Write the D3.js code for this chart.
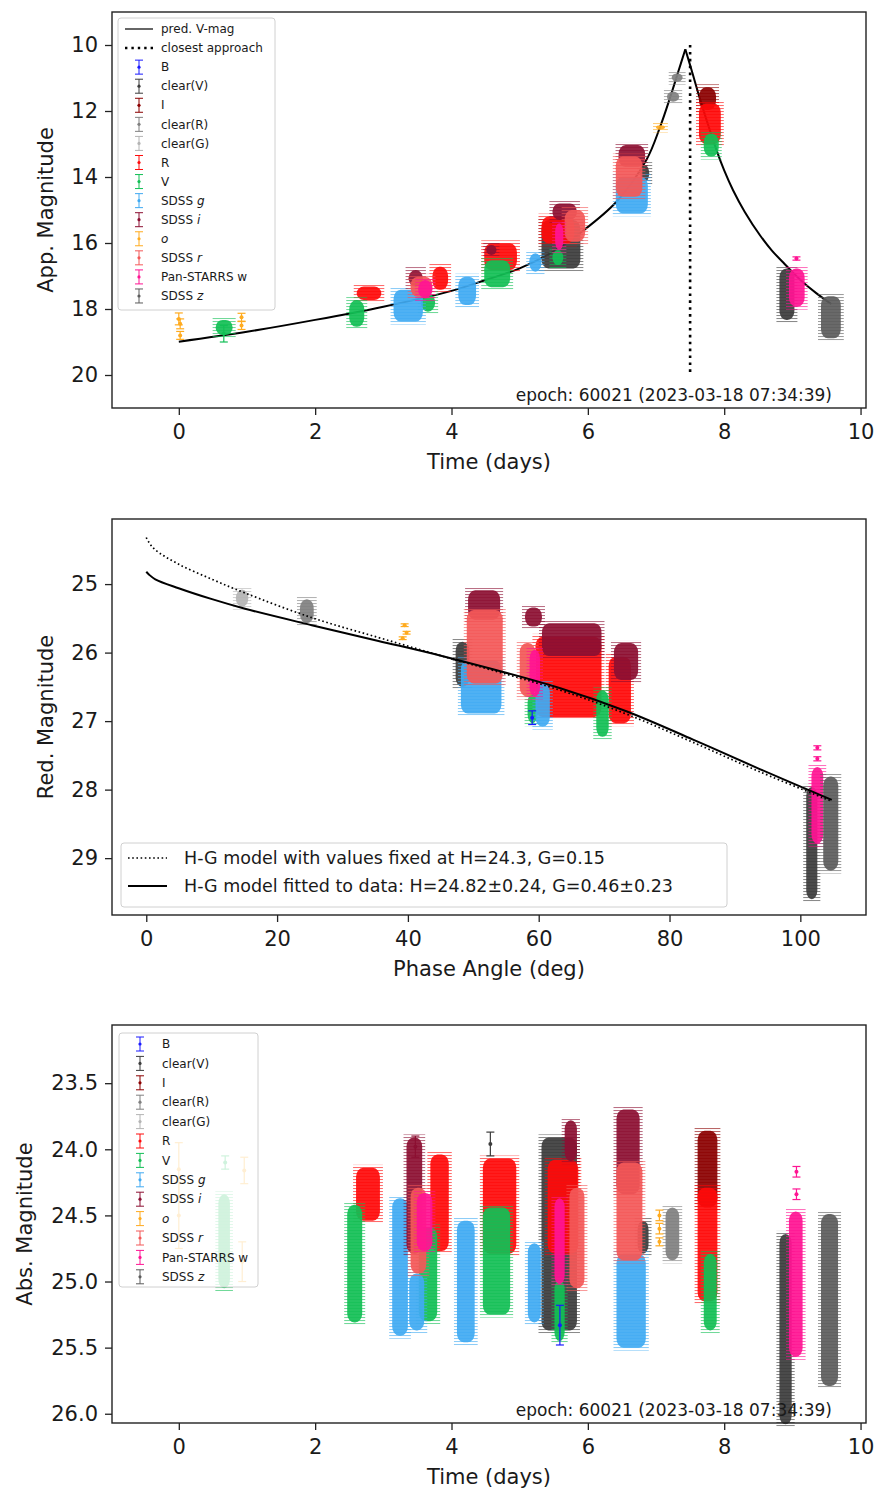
<!DOCTYPE html>
<html lang="en">
<head>
<meta charset="UTF-8">
<title>Light curve</title>
<script src="https://d3js.org/d3.v7.min.js"></script>
<style>
  body { margin: 0; background: #fff; }
  text { font-family: "DejaVu Sans", sans-serif; fill: #1a1a1a; }
</style>
</head>
<body>
<svg id="chart" width="876" height="1490"></svg>
<script>
// ---- filters (legend order, also plotting order) ----
const filterNames = ["B", "clear(V)", "I", "clear(R)", "clear(G)", "R", "V", "SDSS g", "SDSS i", "o", "SDSS r", "Pan-STARRS w", "SDSS z"];
const filterColors = ["#1a1aff", "#3c3c3c", "#8b0000", "#808080", "#b4b4b4", "#ff0a0a", "#12bf55", "#40aaf2", "#8c0f32", "#ffab1f", "#f35858", "#ff1493", "#5c5c5c"];

// ---- panel 1: apparent magnitude vs time ----
const timeTicks = [0, 2, 4, 6, 8, 10];
const appMagTicks = [10, 12, 14, 16, 18, 20];
const predTime = [0, 1, 2, 3, 4, 4.5, 5, 5.5, 5.91, 6.42, 6.86, 7.06, 7.21, 7.32, 7.43, 7.52, 7.65, 7.89, 8.0, 8.13, 8.3, 8.53, 8.7, 8.87, 9.0, 9.16, 9.35, 9.57];
const predMag = [18.99, 18.69, 18.33, 17.93, 17.45, 17.12, 16.77, 16.25, 15.66, 14.75, 13.48, 12.48, 11.57, 10.85, 10.13, 10.75, 11.67, 13.2, 13.8, 14.4, 15.05, 15.78, 16.23, 16.6, 16.88, 17.2, 17.52, 17.85];
const closestTime = 7.5;
const closestMagRange = [10, 20];
// clusters: [filter, t0, t1, magTop, magBottom]
const appClusters = [
  ["V", 0.54, 0.79, 18.33, 18.79],
  ["V", 2.5, 2.72, 17.73, 18.54],
  ["R", 2.61, 2.97, 17.32, 17.73],
  ["SDSS g", 3.15, 3.58, 17.42, 18.38],
  ["SDSS i", 3.37, 3.58, 16.82, 17.32],
  ["SDSS r", 3.4, 3.72, 17.02, 17.63],
  ["Pan-STARRS w", 3.51, 3.72, 17.12, 17.68],
  ["V", 3.55, 3.76, 17.53, 18.08],
  ["R", 3.72, 3.95, 16.72, 17.42],
  ["SDSS g", 4.1, 4.36, 17.02, 17.88],
  ["R", 4.48, 4.96, 16.01, 16.82],
  ["V", 4.48, 4.86, 16.52, 17.34],
  ["SDSS i", 4.51, 4.66, 16.06, 16.36],
  ["SDSS g", 5.14, 5.32, 16.31, 16.87],
  ["clear(V)", 5.32, 5.89, 15.3, 16.77],
  ["R", 5.32, 5.8, 15.2, 16.01],
  ["SDSS i", 5.48, 5.84, 14.8, 15.3],
  ["SDSS r", 5.66, 5.96, 15.0, 15.96],
  ["Pan-STARRS w", 5.52, 5.64, 15.4, 16.21],
  ["V", 5.48, 5.64, 16.21, 16.67],
  ["SDSS g", 6.41, 6.88, 13.99, 15.1],
  ["SDSS r", 6.41, 6.8, 13.38, 14.6],
  ["SDSS i", 6.45, 6.84, 13.03, 13.69],
  ["clear(V)", 6.77, 6.9, 13.64, 14.14],
  ["o", 7.0, 7.13, 12.43, 12.56],
  ["clear(R)", 7.16, 7.34, 11.41, 11.72],
  ["clear(R)", 7.23, 7.39, 10.86, 11.11],
  ["R", 7.63, 7.95, 11.77, 13.0],
  ["V", 7.7, 7.92, 12.68, 13.38],
  ["I", 7.63, 7.88, 11.28, 11.97],
  ["clear(V)", 8.81, 9.03, 16.77, 18.33],
  ["Pan-STARRS w", 8.95, 9.18, 16.77, 17.93],
  ["SDSS z", 9.42, 9.71, 17.61, 18.89]
];
// single points: [filter, t, mag, err]
const appPoints = [
  ["o", 0.0, 18.3, 0.18],
  ["o", 0.02, 18.45, 0.15],
  ["o", 0.02, 18.8, 0.12],
  ["V", 0.66, 18.75, 0.25],
  ["o", 0.92, 18.25, 0.12],
  ["o", 0.92, 18.5, 0.12],
  ["Pan-STARRS w", 9.06, 16.47, 0.05]
];

// ---- panel 2: reduced magnitude vs phase angle ----
const phaseTicks = [0, 20, 40, 60, 80, 100];
const redMagTicks = [25, 26, 27, 28, 29];
const hgFixedPhase = [0, 0.4, 1.38, 4.95, 10.05, 15.1, 25.3, 35.5, 45.2, 63.3, 73.5, 83.6, 93.8, 104.8];
const hgFixedMag = [24.32, 24.39, 24.5, 24.71, 24.93, 25.13, 25.49, 25.78, 26.05, 26.55, 26.9, 27.31, 27.74, 28.17];
const hgFitPhase = [0, 0.4, 1.38, 4.95, 10.05, 15.1, 25.3, 35.5, 45.2, 63.3, 73.5, 83.6, 93.8, 104.8];
const hgFitMag = [24.82, 24.86, 24.93, 25.06, 25.22, 25.36, 25.6, 25.83, 26.05, 26.52, 26.86, 27.27, 27.7, 28.15];
const phaseClusters = [
  ["clear(G)", 13.7, 15.6, 25.08, 25.33],
  ["clear(R)", 23.5, 25.6, 25.22, 25.57],
  ["SDSS g", 48.1, 54.3, 26.11, 26.89],
  ["clear(V)", 47.3, 49.4, 25.84, 26.5],
  ["SDSS r", 49.0, 54.5, 25.38, 26.45],
  ["SDSS i", 49.2, 54.1, 25.09, 25.52],
  ["SDSS g", 59.5, 61.7, 26.45, 27.08],
  ["SDSS r", 57.1, 59.5, 25.86, 26.64],
  ["SDSS i", 57.9, 60.5, 25.34, 25.62],
  ["SDSS i", 60.5, 69.6, 25.57, 26.05],
  ["R", 59.5, 69.6, 25.77, 26.94],
  ["Pan-STARRS w", 58.6, 60.2, 25.96, 26.64],
  ["V", 58.3, 59.8, 26.6, 27.03],
  ["SDSS i", 71.5, 75.2, 25.86, 26.4],
  ["R", 70.7, 74.1, 26.06, 27.03],
  ["V", 68.8, 70.7, 26.55, 27.23],
  ["clear(V)", 100.9, 102.6, 27.96, 29.6],
  ["Pan-STARRS w", 101.7, 103.5, 27.67, 28.79],
  ["SDSS z", 103.5, 105.8, 27.81, 29.18]
];
const phasePoints = [
  ["o", 39.5, 25.6, 0.02],
  ["o", 39.8, 25.71, 0.02],
  ["o", 39.2, 25.79, 0.02],
  ["B", 59.0, 26.95, 0.1],
  ["Pan-STARRS w", 102.6, 27.39, 0.03],
  ["Pan-STARRS w", 102.6, 27.55, 0.03]
];

// ---- panel 3: absolute magnitude vs time ----
const absMagTicks = [23.5, 24.0, 24.5, 25.0, 25.5, 26.0];
const absClusters = [
  ["V", 0.58, 0.75, 24.34, 25.05],
  ["V", 2.47, 2.69, 24.42, 25.31],
  ["R", 2.6, 2.95, 24.14, 24.54],
  ["SDSS g", 3.13, 3.36, 24.37, 25.41],
  ["SDSS i", 3.34, 3.57, 23.91, 24.79],
  ["SDSS r", 3.4, 3.63, 24.29, 24.94],
  ["SDSS g", 3.38, 3.6, 24.94, 25.37],
  ["Pan-STARRS w", 3.49, 3.72, 24.33, 24.77],
  ["V", 3.52, 3.79, 24.59, 25.3],
  ["R", 3.69, 3.96, 24.04, 24.77],
  ["SDSS g", 4.08, 4.34, 24.54, 25.46],
  ["R", 4.46, 4.95, 24.07, 24.79],
  ["V", 4.46, 4.86, 24.44, 25.25],
  ["SDSS g", 5.12, 5.31, 24.71, 25.31],
  ["clear(V)", 5.32, 5.84, 23.91, 25.37],
  ["R", 5.41, 5.86, 24.08, 24.79],
  ["SDSS r", 5.73, 5.95, 24.29, 25.05],
  ["Pan-STARRS w", 5.51, 5.66, 24.37, 25.02],
  ["V", 5.51, 5.66, 24.99, 25.45],
  ["SDSS i", 5.66, 5.84, 23.78, 24.09],
  ["SDSS g", 6.42, 6.85, 24.79, 25.5],
  ["SDSS r", 6.42, 6.8, 24.1, 24.84],
  ["SDSS i", 6.42, 6.76, 23.7, 24.34],
  ["clear(V)", 6.73, 6.89, 24.54, 24.79],
  ["clear(R)", 7.14, 7.34, 24.44, 24.84],
  ["R", 7.61, 7.9, 24.29, 25.15],
  ["V", 7.7, 7.89, 24.79, 25.37],
  ["I", 7.61, 7.9, 23.86, 24.44],
  ["clear(V)", 8.81, 8.99, 24.64, 26.08],
  ["Pan-STARRS w", 8.95, 9.15, 24.47, 25.57],
  ["SDSS z", 9.42, 9.67, 24.49, 25.79]
];
const absPoints = [
  ["o", 0.0, 24.15, 0.2],
  ["o", 0.0, 24.5, 0.25],
  ["V", 0.68, 24.1, 0.05],
  ["o", 0.96, 24.16, 0.1],
  ["o", 0.93, 24.85, 0.15],
  ["SDSS i", 3.47, 23.98, 0.08],
  ["clear(V)", 4.57, 23.96, 0.09],
  ["B", 5.59, 25.33, 0.15],
  ["o", 7.05, 24.5, 0.04],
  ["o", 7.05, 24.6, 0.04],
  ["o", 7.05, 24.7, 0.03],
  ["Pan-STARRS w", 9.06, 24.17, 0.04],
  ["Pan-STARRS w", 9.06, 24.34, 0.04]
];

const epochText = "epoch: 60021 (2023-03-18 07:34:39)";

// ---------------------------------------------------------------
const svg = d3.select("#chart");
const colorOf = d3.scaleOrdinal().domain(filterNames).range(filterColors);
const order = f => filterNames.indexOf(f);

// cap-line patterns, one per filter
const defs = svg.append("defs");
filterNames.forEach((f, i) => {
  const p = defs.append("pattern").attr("id", "caps" + i)
    .attr("patternUnits", "userSpaceOnUse").attr("width", 9).attr("height", 3);
  p.append("line").attr("x1", 0).attr("x2", 9).attr("y1", 0.5).attr("y2", 0.5)
    .attr("stroke", filterColors[i]).attr("stroke-width", 1.1);
});

function makePanel(box, xDomain, yDomain, xTicks, yTicks, yFmt, xLabel, yLabel, yLabelX) {
  const x = d3.scaleLinear().domain(xDomain).range([box.left, box.right]);
  const y = d3.scaleLinear().domain(yDomain).range([box.top, box.bottom]);
  const g = svg.append("g");
  const plot = g.append("g");
  g.append("g").attr("transform", `translate(0,${box.bottom})`)
    .call(d3.axisBottom(x).tickValues(xTicks).tickSize(7).tickPadding(9))
    .call(a => a.select(".domain").remove())
    .call(a => a.selectAll("text").attr("font-size", 21).attr("font-family", "DejaVu Sans"))
    .call(a => a.selectAll("line").attr("stroke", "#222").attr("stroke-width", 1.3));
  g.append("g").attr("transform", `translate(${box.left},0)`)
    .call(d3.axisLeft(y).tickValues(yTicks).tickFormat(yFmt).tickSize(7).tickPadding(7))
    .call(a => a.select(".domain").remove())
    .call(a => a.selectAll("text").attr("font-size", 21).attr("font-family", "DejaVu Sans"))
    .call(a => a.selectAll("line").attr("stroke", "#222").attr("stroke-width", 1.3));
  g.append("rect").attr("x", box.left).attr("y", box.top)
    .attr("width", box.right - box.left).attr("height", box.bottom - box.top)
    .attr("fill", "none").attr("stroke", "#222").attr("stroke-width", 1.4);
  g.append("text").attr("x", (box.left + box.right) / 2).attr("y", box.bottom + 61)
    .attr("text-anchor", "middle").attr("font-size", 21).text(xLabel);
  g.append("text").attr("transform", `translate(${yLabelX},${(box.top + box.bottom) / 2}) rotate(-90)`)
    .attr("text-anchor", "middle").attr("dy", "0.32em").attr("font-size", 21).text(yLabel);
  return { g, plot, x, y, box };
}

// each cluster of measurements: a fringe of error-bar caps plus a dense core
function drawClusters(p, rows) {
  const sel = p.plot.append("g");
  rows.slice().sort((a, b) => order(a[0]) - order(b[0])).forEach(d => {
    const i = order(d[0]);
    const x0 = p.x(d[1]), x1 = p.x(d[2]), y0 = p.y(d[3]), y1 = p.y(d[4]);
    const w = x1 - x0, h = y1 - y0;
    sel.append("rect").attr("x", x0 - 3).attr("y", y0 - 3)
      .attr("width", w + 6).attr("height", h + 6)
      .attr("fill", `url(#caps${i})`).attr("opacity", 0.6);
    sel.append("rect").attr("x", x0).attr("y", y0)
      .attr("width", w).attr("height", h)
      .attr("rx", Math.min(w / 2, 7)).attr("ry", Math.min(h / 2, 9))
      .attr("fill", colorOf(d[0])).attr("fill-opacity", 0.92);
  });
}

function drawPoints(p, rows) {
  const grp = p.plot.append("g").selectAll("g").data(rows).join("g")
    .attr("stroke", d => colorOf(d[0])).attr("fill", d => colorOf(d[0]));
  grp.append("line").attr("x1", d => p.x(d[1])).attr("x2", d => p.x(d[1]))
    .attr("y1", d => p.y(d[2] - d[3])).attr("y2", d => p.y(d[2] + d[3])).attr("stroke-width", 1.2);
  [-1, 1].forEach(s => {
    grp.append("line").attr("x1", d => p.x(d[1]) - 4).attr("x2", d => p.x(d[1]) + 4)
      .attr("y1", d => p.y(d[2] + s * d[3])).attr("y2", d => p.y(d[2] + s * d[3])).attr("stroke-width", 1.2);
  });
  grp.append("circle").attr("cx", d => p.x(d[1])).attr("cy", d => p.y(d[2])).attr("r", 2).attr("stroke", "none");
}

function filterLegend(g, x0, y0, w, h, yStart, step, extra) {
  const lg = g.append("g");
  lg.append("rect").attr("x", x0).attr("y", y0).attr("width", w).attr("height", h).attr("rx", 3)
    .attr("fill", "#fff").attr("fill-opacity", 0.8).attr("stroke", "#d0d0d0");
  const names = extra.map(e => e.name).concat(filterNames);
  names.forEach((name, k) => {
    const cy = yStart + k * step;
    const e = extra.find(v => v.name === name);
    if (e) {
      lg.append("line").attr("x1", x0 + 7).attr("x2", x0 + 35).attr("y1", cy).attr("y2", cy)
        .attr("stroke", e.color).attr("stroke-width", e.width).attr("stroke-dasharray", e.dash);
    } else {
      const c = colorOf(name), cx = x0 + 21;
      lg.append("line").attr("x1", cx).attr("x2", cx).attr("y1", cy - 7).attr("y2", cy + 7).attr("stroke", c);
      lg.append("line").attr("x1", cx - 4).attr("x2", cx + 4).attr("y1", cy - 7).attr("y2", cy - 7).attr("stroke", c);
      lg.append("line").attr("x1", cx - 4).attr("x2", cx + 4).attr("y1", cy + 7).attr("y2", cy + 7).attr("stroke", c);
      lg.append("circle").attr("cx", cx).attr("cy", cy).attr("r", 1.6).attr("fill", c);
    }
    const t = lg.append("text").attr("x", x0 + 43).attr("y", cy).attr("dy", "0.35em").attr("font-size", 12);
    if (name.startsWith("SDSS ")) {
      t.append("tspan").text("SDSS ");
      t.append("tspan").attr("font-style", "italic").text(name.slice(5));
    } else if (name === "o") {
      t.attr("font-style", "italic").text(name);
    } else {
      t.text(name);
    }
  });
}

const line = d3.line().curve(d3.curveMonotoneX);
const smooth = d3.line().curve(d3.curveCatmullRom.alpha(0.5));

// ---- panel 1 ----
const p1 = makePanel({ left: 112, right: 866, top: 12, bottom: 408 }, [-0.98, 10.08], [9.0, 21.0],
  timeTicks, appMagTicks, d3.format("d"), "Time (days)", "App. Magnitude", 46);
// rising and falling branch drawn separately so the peak stays a cusp
const peak = predMag.indexOf(d3.min(predMag));
const predPts = predTime.map((t, i) => [p1.x(t), p1.y(predMag[i])]);
[predPts.slice(0, peak + 1), predPts.slice(peak)].forEach(seg => {
  p1.plot.append("path").attr("d", smooth(seg))
    .attr("fill", "none").attr("stroke", "#000").attr("stroke-width", 2);
});
drawClusters(p1, appClusters);
drawPoints(p1, appPoints);
p1.plot.append("line").attr("x1", p1.x(closestTime)).attr("x2", p1.x(closestTime))
  .attr("y1", p1.y(closestMagRange[0])).attr("y2", p1.y(closestMagRange[1]))
  .attr("stroke", "#000").attr("stroke-width", 2.6).attr("stroke-dasharray", "2.6,4.3");
p1.g.append("text").attr("x", 832).attr("y", 401).attr("text-anchor", "end").attr("font-size", 17).text(epochText);
filterLegend(p1.g, 118, 18, 157, 292, 29, 19.07, [
  { name: "pred. V-mag", color: "#555", width: 1.8, dash: null },
  { name: "closest approach", color: "#000", width: 2.4, dash: "2.4,4" }
]);

// ---- panel 2 ----
const p2 = makePanel({ left: 112, right: 866, top: 519, bottom: 915 }, [-5.24, 110.04], [24.05, 29.83],
  phaseTicks, redMagTicks, d3.format("d"), "Phase Angle (deg)", "Red. Magnitude", 46);
drawClusters(p2, phaseClusters);
drawPoints(p2, phasePoints);
p2.plot.append("path")
  .attr("d", smooth(hgFixedPhase.map((a, i) => [p2.x(a), p2.y(hgFixedMag[i])])))
  .attr("fill", "none").attr("stroke", "#000").attr("stroke-width", 1.7).attr("stroke-dasharray", "1.6,2.6");
p2.plot.append("path")
  .attr("d", smooth(hgFitPhase.map((a, i) => [p2.x(a), p2.y(hgFitMag[i])])))
  .attr("fill", "none").attr("stroke", "#000").attr("stroke-width", 2);
const lg2 = p2.g.append("g");
lg2.append("rect").attr("x", 121).attr("y", 843).attr("width", 606).attr("height", 64).attr("rx", 3)
  .attr("fill", "#fff").attr("fill-opacity", 0.8).attr("stroke", "#d0d0d0");
lg2.append("line").attr("x1", 128).attr("x2", 167).attr("y1", 858).attr("y2", 858)
  .attr("stroke", "#000").attr("stroke-width", 1.7).attr("stroke-dasharray", "1.6,2.6");
lg2.append("line").attr("x1", 128).attr("x2", 167).attr("y1", 886).attr("y2", 886)
  .attr("stroke", "#000").attr("stroke-width", 2);
lg2.append("text").attr("x", 184).attr("y", 858).attr("dy", "0.35em").attr("font-size", 17.5)
  .text("H-G model with values fixed at H=24.3, G=0.15");
lg2.append("text").attr("x", 184).attr("y", 886).attr("dy", "0.35em").attr("font-size", 17.5)
  .text("H-G model fitted to data: H=24.82\u00b10.24, G=0.46\u00b10.23");

// ---- panel 3 ----
const p3 = makePanel({ left: 112, right: 866, top: 1025, bottom: 1423 }, [-0.98, 10.08], [23.06, 26.07],
  timeTicks, absMagTicks, d3.format(".1f"), "Time (days)", "Abs. Magnitude", 25);
drawClusters(p3, absClusters);
drawPoints(p3, absPoints);
p3.g.append("text").attr("x", 832).attr("y", 1416).attr("text-anchor", "end").attr("font-size", 17).text(epochText);
filterLegend(p3.g, 119, 1033, 139, 254, 1044, 19.4, []);
</script>
</body>
</html>
